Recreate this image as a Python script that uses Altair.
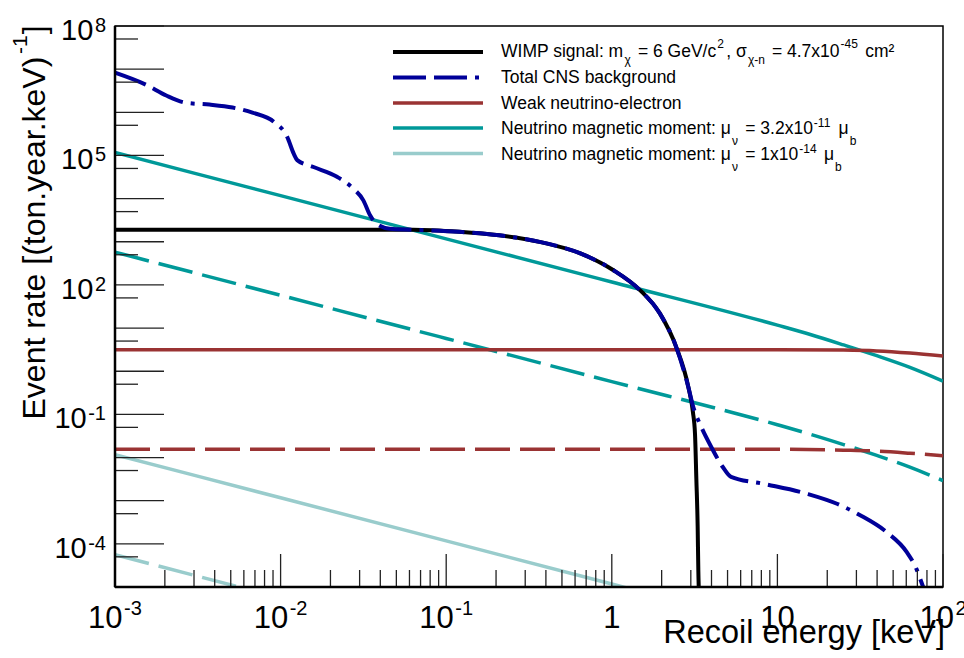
import altair as alt
import pandas as pd

# ---------------- values ----------------
# energies in keV, rates in (ton.year.keV)^-1
cns_E = [0.001, 0.00155, 0.00204, 0.00269, 0.00372, 0.00513, 0.00676, 0.00912, 0.01096, 0.0120,
         0.0126, 0.0158, 0.0219, 0.0275, 0.0316, 0.0347, 0.0380, 0.0457, 0.0631, 0.120,
         0.209, 0.372, 0.646, 1.023, 1.479, 1.95, 2.45, 2.90, 3.09, 3.47,
         3.98, 4.68, 5.25, 8.32, 15.1, 22.9, 31.6, 45.7, 60.3, 69.2,
         75.9, 83.2]
cns_R = [8.3e6, 4.3e6, 2.45e6, 1.66e6, 1.51e6, 1.29e6, 9.8e5, 6.0e5, 2.69e5, 1.10e5,
         7.8e4, 5.4e4, 3.2e4, 1.7e4, 9.1e3, 4.1e3, 2.6e3, 2.0e3, 1.9e3, 1.70e3,
         1.41e3, 980, 537, 219, 75.9, 21.9, 3.63, 0.427, 0.158, 0.0513,
         0.0178, 0.00603, 0.00355, 0.00245, 0.00145, 8.5e-4, 4.6e-4, 1.86e-4, 6.5e-5, 2.6e-5,
         1.0e-5, 4e-6]

wimp_E = [0.001, 0.01, 0.0631, 0.120, 0.209, 0.372, 0.646, 1.023, 1.479, 1.95,
          2.45, 2.90, 3.09, 3.18, 3.24, 3.30, 3.33, 3.37]
wimp_R = [1.9e3, 1.9e3, 1.9e3, 1.70e3, 1.41e3, 980, 537, 219, 75.9, 21.9,
          3.63, 0.427, 0.112, 0.0355, 3.2e-3, 2.5e-4, 2.5e-5, 5e-6]

mm_hi_E = [0.001, 0.01, 0.1, 1, 10, 15.8, 25.1, 39.8, 63.1, 100]
mm_hi_R = [1.17e5, 1.17e4, 1.17e3, 117, 11.7, 7.1, 4.07, 2.29, 1.23, 0.59]
mm_hi_dash_R = [575, 57.5, 5.75, 0.575, 0.0575, 0.0347, 0.020, 0.0112, 6.0e-3, 2.9e-3]

weak_E = [0.001, 1, 10, 25.1, 39.8, 63.1, 100]
weak_R = [3.16, 3.16, 3.16, 3.09, 2.95, 2.63, 2.24]
weak_dash_R = [0.0155, 0.0155, 0.0155, 0.0148, 0.0141, 0.0126, 0.0110]

mm_lo_E = [0.001, 0.01, 0.1, 1, 1.26]
mm_lo_R = [0.0117, 1.17e-3, 1.17e-4, 1.17e-5, 9.3e-6]
mm_lo_dash_E = [0.001, 0.00631]
mm_lo_dash_R = [5.6e-5, 8.9e-6]

# axis ticks / labels
x_major = [0.001, 0.01, 0.1, 1, 10, 100]
x_minor = [m * d for d in [0.001, 0.01, 0.1, 1, 10] for m in range(2, 10)]
y_major = [10.0 ** k for k in range(-5, 9)]
y_minor = [5 * 10.0 ** k for k in range(-5, 8)]
xlab_vals = [0.001, 0.01, 0.1, 1, 10, 100]
xlab_base = ["10", "10", "10", "1", "10", "10"]
xlab_exp = ["-3", "-2", "-1", "", "", "2"]
ylab_vals = [1e8, 1e5, 1e2, 0.1, 1e-4]
ylab_base = ["10", "10", "10", "10", "10"]
ylab_exp = ["8", "5", "2", "-1", "-4"]
x_title = "Recoil energy [keV]"
y_title_parts = ["Event rate [(ton.year.keV)", "-1", "]"]

legend_rows = [
    [("WIMP signal: m", "n"), ("χ", "sub"), (" = 6 GeV/c", "n"), ("2", "sup"), (", σ", "n"),
     ("χ-n", "sub"), (" = 4.7x10", "n"), ("-45", "sup"), (" cm²", "n")],
    [("Total CNS background", "n")],
    [("Weak neutrino-electron", "n")],
    [("Neutrino magnetic moment: μ", "n"), ("ν", "sub"), (" = 3.2x10", "n"), ("-11", "sup"),
     (" μ", "n"), ("b", "sub")],
    [("Neutrino magnetic moment: μ", "n"), ("ν", "sub"), (" = 1x10", "n"), ("-14", "sup"),
     (" μ", "n"), ("b", "sub")],
]

# ---------------- style ----------------
FONT = "Liberation Sans"
BLACK = "#000000"
BLUE = "#000099"
BROWN = "#9a3333"
TEAL = "#009999"
LTEAL = "#99cccc"
DASH = [35, 10]
DASH_CNS = [33, 8, 33, 8, 4, 8]

W, H = 828, 561

AW = {' ': 278, '(': 333, ')': 333, ',': 278, '-': 333, '.': 278, '/': 278, ':': 278, '=': 584,
      '[': 278, ']': 278, '²': 333,
      'A': 667, 'B': 667, 'C': 722, 'D': 722, 'E': 667, 'F': 611, 'G': 778, 'H': 722, 'I': 278,
      'J': 500, 'K': 667, 'L': 556, 'M': 833, 'N': 722, 'O': 778, 'P': 667, 'Q': 778, 'R': 722,
      'S': 667, 'T': 611, 'U': 722, 'V': 667, 'W': 944, 'X': 667, 'Y': 667, 'Z': 611,
      'a': 556, 'b': 556, 'c': 500, 'd': 556, 'e': 556, 'f': 278, 'g': 556, 'h': 556, 'i': 222,
      'j': 222, 'k': 500, 'l': 222, 'm': 833, 'n': 556, 'o': 556, 'p': 556, 'q': 556, 'r': 333,
      's': 500, 't': 278, 'u': 556, 'v': 500, 'w': 722, 'x': 500, 'y': 500, 'z': 500,
      'χ': 500, 'σ': 617, 'μ': 576, 'ν': 500}


def tw(s, fs):
    return sum(AW.get(c, 556) for c in s) * fs / 1000.0


xscale = alt.Scale(type="log", domain=[1e-3, 1e2], nice=False)
yscale = alt.Scale(type="log", domain=[1e-5, 1e8], nice=False)
ONE = pd.DataFrame({"a": [0]})


def curve(E, R, color, width, dash=None):
    kw = dict(color=color, strokeWidth=width, clip=True, interpolate="monotone")
    if dash:
        kw["strokeDash"] = dash
    return alt.Chart(pd.DataFrame({"E": E, "R": R})).mark_line(**kw).encode(
        x=alt.X("E:Q", scale=xscale, axis=None),
        y=alt.Y("R:Q", scale=yscale, axis=None),
    )


def ptext(s, x, y, fs, dx=0, dy=0, align="left", angle=0):
    return alt.Chart(ONE).mark_text(
        text=s, font=FONT, fontSize=fs, align=align, baseline="alphabetic",
        dx=dx, dy=dy, angle=angle, color="black",
    ).encode(x=alt.value(x), y=alt.value(y))


layers = []

# data curves
layers += [
    curve(mm_lo_E, mm_lo_R, LTEAL, 3.5),
    curve(mm_lo_dash_E, mm_lo_dash_R, LTEAL, 3.5, DASH),
    curve(mm_hi_E, mm_hi_R, TEAL, 3.5),
    curve(mm_hi_E, mm_hi_dash_R, TEAL, 3.5, DASH),
    curve(weak_E, weak_R, BROWN, 3.5),
    curve(weak_E, weak_dash_R, BROWN, 3.5, DASH),
    curve(wimp_E, wimp_R, BLACK, 4),
    curve(cns_E, cns_R, BLUE, 4, DASH_CNS),
]

# ticks (drawn inside the frame)
TICK = "#222222"
layers.append(alt.Chart(pd.DataFrame({"E": x_major})).mark_rule(color=TICK, strokeWidth=1.3).encode(
    x=alt.X("E:Q", scale=xscale, axis=None), y=alt.value(H), y2=alt.value(H - 33)))
layers.append(alt.Chart(pd.DataFrame({"E": x_minor})).mark_rule(color=TICK, strokeWidth=1.3).encode(
    x=alt.X("E:Q", scale=xscale, axis=None), y=alt.value(H), y2=alt.value(H - 17)))
layers.append(alt.Chart(pd.DataFrame({"R": y_major})).mark_rule(color=TICK, strokeWidth=1.3).encode(
    y=alt.Y("R:Q", scale=yscale, axis=None), x=alt.value(0), x2=alt.value(49)))
layers.append(alt.Chart(pd.DataFrame({"R": y_minor})).mark_rule(color=TICK, strokeWidth=1.3).encode(
    y=alt.Y("R:Q", scale=yscale, axis=None), x=alt.value(0), x2=alt.value(23)))

# thicker left / bottom axis lines
layers.append(alt.Chart(ONE).mark_rule(color="black", strokeWidth=2.5).encode(
    x=alt.value(0), y=alt.value(0), y2=alt.value(H)))
layers.append(alt.Chart(ONE).mark_rule(color="black", strokeWidth=2.5).encode(
    x=alt.value(0), x2=alt.value(W), y=alt.value(H)))

# x tick labels
XL_FS, XL_EFS, XL_Y, XL_EDY = 31, 20, 602, -13
for v, b, e in zip(xlab_vals, xlab_base, xlab_exp):
    wb = tw(b, XL_FS)
    we = tw(e, XL_EFS) + (1.5 if e else 0)
    tot = wb + we
    df = pd.DataFrame({"E": [v]})
    layers.append(alt.Chart(df).mark_text(
        text=b, font=FONT, fontSize=XL_FS, align="left", baseline="alphabetic",
        dx=-tot / 2, color="black").encode(
        x=alt.X("E:Q", scale=xscale, axis=None), y=alt.value(XL_Y)))
    if e:
        layers.append(alt.Chart(df).mark_text(
            text=e, font=FONT, fontSize=XL_EFS, align="left", baseline="alphabetic",
            dx=-tot / 2 + wb + 1.5, dy=XL_EDY, color="black").encode(
            x=alt.X("E:Q", scale=xscale, axis=None), y=alt.value(XL_Y)))

# y tick labels
YL_FS, YL_EFS, YL_RIGHT = 29, 20, -9
for v, b, e in zip(ylab_vals, ylab_base, ylab_exp):
    we = tw(e, YL_EFS)
    df = pd.DataFrame({"R": [v]})
    layers.append(alt.Chart(df).mark_text(
        text=b, font=FONT, fontSize=YL_FS, align="right", baseline="alphabetic",
        dy=14, color="black").encode(
        y=alt.Y("R:Q", scale=yscale, axis=None), x=alt.value(YL_RIGHT - we - 1.5)))
    layers.append(alt.Chart(df).mark_text(
        text=e, font=FONT, fontSize=YL_EFS, align="right", baseline="alphabetic",
        dy=6, color="black").encode(
        y=alt.Y("R:Q", scale=yscale, axis=None), x=alt.value(YL_RIGHT)))

# axis titles
layers.append(ptext(x_title, 830, 617, 32.5, align="right"))
T_FS, T_EFS = 32, 21
w0 = tw(y_title_parts[0], T_FS)
w1 = tw(y_title_parts[1], T_EFS)
layers.append(ptext(y_title_parts[0], -70, 393.5, T_FS, angle=270))
layers.append(ptext(y_title_parts[1], -70, 393.5, T_EFS, dx=w0 + 1, dy=-18, angle=270))
layers.append(ptext(y_title_parts[2], -70, 393.5, T_FS, dx=w0 + w1 + 2, angle=270))

# legend
LEG_X0, LEG_X1, LEG_TX = 278, 368, 386
leg_line_y = [26, 51.5, 77, 102, 127.5]
leg_base_y = [31.3, 57.0, 82.5, 108.0, 133.5]
leg_colors = [BLACK, BLUE, BROWN, TEAL, LTEAL]
leg_dash = [None, DASH_CNS, None, None, None]
leg_width = [4, 4, 3.5, 3.5, 3.5]
sub_dy = [6.5, 0, 0, 11, 11]
sup_dy = [-9.5, 0, 0, -7, -7]
LFS, LSFS = 17.5, 12
for i, row in enumerate(legend_rows):
    kw = dict(color=leg_colors[i], strokeWidth=leg_width[i])
    if leg_dash[i]:
        kw["strokeDash"] = leg_dash[i]
    layers.append(alt.Chart(ONE).mark_rule(**kw).encode(
        x=alt.value(LEG_X0), x2=alt.value(LEG_X1), y=alt.value(leg_line_y[i])))
    xpos = LEG_TX
    for s, kind in row:
        # leading spaces are dropped by SVG, so advance explicitly
        while s.startswith(" "):
            s = s[1:]
            xpos += tw(" ", LFS)
        if kind == "n":
            layers.append(ptext(s, xpos, leg_base_y[i], LFS))
            xpos += tw(s, LFS)
        else:
            xpos += 1
            dy = sub_dy[i] if kind == "sub" else sup_dy[i]
            layers.append(ptext(s, xpos, leg_base_y[i], LSFS, dy=dy))
            xpos += tw(s, LSFS) + 2.5

chart = alt.layer(*layers).properties(
    width=W, height=H,
    padding={"left": 115, "top": 26, "right": 21, "bottom": 71},
    autosize=alt.AutoSizeParams(type="none"),
    background="white",
).configure_view(stroke="black", strokeWidth=1.5)

chart.save("out.html", embed_options={"renderer": "svg", "actions": False})
